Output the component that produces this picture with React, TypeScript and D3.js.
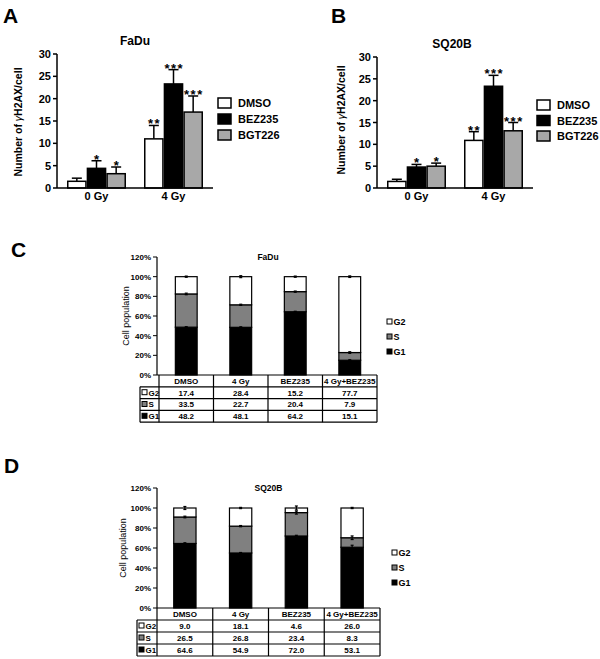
import React from "react";
import * as d3 from "d3";

// ---------- Data: panels A & B ----------
const doseGroups = ["0 Gy", "4 Gy"];
const treatments = ["DMSO", "BEZ235", "BGT226"];
const treatmentFill = ["#ffffff", "#000000", "#a8a8a8"];
const yTicksAB = [0, 5, 10, 15, 20, 25, 30];

const fadu0Gy = [1.5, 4.4, 3.2];
const fadu4Gy = [11.0, 23.3, 17.0];
const fadu0GyErr = [0.7, 1.7, 1.5];
const fadu4GyErr = [3.0, 3.2, 3.6];
const fadu0GyStars = ["", "*", "*"];
const fadu4GyStars = ["**", "***", "***"];

const sq0Gy = [1.5, 4.8, 5.0];
const sq4Gy = [10.9, 23.3, 13.1];
const sq0GyErr = [0.5, 0.6, 0.7];
const sq4GyErr = [2.0, 2.5, 1.9];
const sq0GyStars = ["", "*", "*"];
const sq4GyStars = ["**", "***", "***"];

// ---------- Data: panels C & D ----------
const cycleCats = ["DMSO", "4 Gy", "BEZ235", "4 Gy+BEZ235"];
const phases = ["G2", "S", "G1"]; // table order (top to bottom)
const phaseFill: Record<string, string> = { G2: "#ffffff", S: "#808080", G1: "#000000" };
const yTicksCD = [0, 20, 40, 60, 80, 100, 120];

const faduG2 = [17.4, 28.4, 15.2, 77.7];
const faduS = [33.5, 22.7, 20.4, 7.9];
const faduG1 = [48.2, 48.1, 64.2, 15.1];
const faduErrG1 = [0.5, 0.5, 0.5, 0.5];
const faduErrS = [0.8, 0.6, 0.6, 0.8];
const faduErrG2 = [0.6, 1.0, 0.6, 0.8];

const sqG2 = [9.0, 18.1, 4.6, 26.0];
const sqS = [26.5, 26.8, 23.4, 8.3];
const sqG1 = [64.6, 54.9, 72.0, 53.1];
const sqErrG1 = [0.7, 0.5, 0.7, 2.0];
const sqErrS = [0.8, 0.6, 1.5, 1.8];
const sqErrG2 = [1.5, 0.6, 2.0, 0.6];

const FONT = "'Liberation Sans', Arial, Helvetica, sans-serif";

type ABProps = {
  title: string;
  x0: number; x1: number; yTop: number; yBottom: number;
  titleX: number; labelX: number; labelY: number;
  legendX: number; legendYs: number[];
  means: number[][]; errs: number[][]; stars: string[][];
};

function DosePanel(p: ABProps) {
  const y = d3.scaleLinear().domain([0, 30]).range([p.yBottom, p.yTop]);
  const xg = d3.scaleBand().domain(doseGroups).range([p.x0, p.x1]).paddingInner(0.234).paddingOuter(0.13);
  const xt = d3.scaleBand().domain(treatments).range([0, xg.bandwidth()]);
  return (
    <g fontFamily={FONT} fontWeight="bold">
      <text x={p.titleX} y={p.yTop - 9} textAnchor="middle" fontSize={12}>{p.title}</text>
      {/* bars */}
      {doseGroups.map((g, gi) =>
        treatments.map((t, ti) => {
          const v = p.means[gi][ti];
          const e = p.errs[gi][ti];
          const bx = (xg(g) as number) + (xt(t) as number);
          const bw = xt.bandwidth();
          const cx = bx + bw / 2;
          const capY = y(v + e);
          return (
            <g key={g + t}>
              <line x1={cx} x2={cx} y1={y(v)} y2={capY} stroke="#000" strokeWidth={1.5} />
              <line x1={cx - 5} x2={cx + 5} y1={capY} y2={capY} stroke="#000" strokeWidth={1.5} />
              <rect x={bx + 0.75} y={y(v)} width={bw - 1.5} height={y(0) - y(v)} fill={treatmentFill[ti]} stroke="#000" strokeWidth={1.5} />
              {p.stars[gi][ti] && (
                <text x={cx + 0.75} y={capY + 3} textAnchor="middle" fontSize={13} letterSpacing={1.5}>{p.stars[gi][ti]}</text>
              )}
            </g>
          );
        })
      )}
      {/* axes */}
      <line x1={p.x0} x2={p.x0} y1={p.yTop} y2={p.yBottom} stroke="#000" strokeWidth={1.5} />
      <line x1={p.x0} x2={p.x1} y1={p.yBottom} y2={p.yBottom} stroke="#000" strokeWidth={1.5} />
      {yTicksAB.map((t) => (
        <g key={t}>
          <line x1={p.x0 - 4} x2={p.x0} y1={y(t)} y2={y(t)} stroke="#000" strokeWidth={1.5} />
          <text x={p.x0 - 6} y={y(t) + 4} textAnchor="end" fontSize={11}>{t}</text>
        </g>
      ))}
      {doseGroups.map((g) => (
        <text key={g} x={(xg(g) as number) + xg.bandwidth() / 2} y={p.yBottom + 12} textAnchor="middle" fontSize={11}>{g}</text>
      ))}
      <text transform={`translate(${p.labelX},${p.labelY}) rotate(-90)`} textAnchor="middle" fontSize={10.5}>
        Number of <tspan fontWeight="normal" fontStyle="italic">γ</tspan>H2AX/cell
      </text>
      {/* legend */}
      {treatments.map((t, i) => (
        <g key={t}>
          <rect x={p.legendX} y={p.legendYs[i] - 5} width={13} height={10} fill={treatmentFill[i]} stroke="#000" strokeWidth={1.5} />
          <text x={p.legendX + 20} y={p.legendYs[i] + 4} fontSize={11}>{t}</text>
        </g>
      ))}
    </g>
  );
}

type CDProps = {
  title: string;
  axisX: number; colX0: number; colX1: number; rowHeadX: number;
  yTop: number; yBottom: number; rowH: number;
  labelX: number; legendX: number; legendYs: number[];
  G2: number[]; S: number[]; G1: number[];
  errG1: number[]; errS: number[]; errG2: number[];
};

function CyclePanel(p: CDProps) {
  const y = d3.scaleLinear().domain([0, 120]).range([p.yBottom, p.yTop]);
  const x = d3.scaleBand().domain(cycleCats).range([p.colX0, p.colX1]).paddingInner(0.6).paddingOuter(0.3);
  const rows = cycleCats.map((c, i) => ({ cat: c, G1: p.G1[i], S: p.S[i], G2: p.G2[i] }));
  const stack = d3.stack<any>().keys(["G1", "S", "G2"]).offset(d3.stackOffsetExpand)(rows);
  const errs: Record<string, number[]> = { G1: p.errG1, S: p.errS, G2: p.errG2 };
  const tableVals: Record<string, number[]> = { G2: p.G2, S: p.S, G1: p.G1 };
  const step = x.step();
  const colLeft = (i: number) => p.colX0 + i * step;
  const tableTop = p.yBottom;
  return (
    <g fontFamily={FONT}>
      <text x={(p.colX0 + p.colX1) / 2} y={p.yTop + 3} textAnchor="middle" fontSize={8.5} fontWeight="bold">{p.title}</text>
      {/* bars */}
      {stack.map((layer) =>
        layer.map((d, i) => (
          <rect key={layer.key + i} x={x(cycleCats[i])} y={y(d[1] * 100)} width={x.bandwidth()} height={y(d[0] * 100) - y(d[1] * 100)}
            fill={phaseFill[layer.key]} stroke="#000" strokeWidth={1.2} />
        ))
      )}
      {/* error bars */}
      {stack.map((layer) =>
        layer.map((d, i) => {
          const cx = (x(cycleCats[i]) as number) + x.bandwidth() / 2;
          const v = d[1] * 100;
          const e = errs[layer.key][i];
          return (
            <g key={"e" + layer.key + i} stroke="#000" strokeWidth={1.2}>
              <line x1={cx} x2={cx} y1={y(v - e)} y2={y(v + e)} />
              <line x1={cx - 1.5} x2={cx + 1.5} y1={y(v - e)} y2={y(v - e)} />
              <line x1={cx - 1.5} x2={cx + 1.5} y1={y(v + e)} y2={y(v + e)} />
            </g>
          );
        })
      )}
      {/* y axis */}
      <line x1={p.axisX} x2={p.axisX} y1={p.yTop} y2={p.yBottom} stroke="#000" strokeWidth={1.2} />
      {yTicksCD.map((t) => (
        <g key={t}>
          <line x1={p.axisX - 4} x2={p.axisX} y1={y(t)} y2={y(t)} stroke="#000" strokeWidth={1} />
          <text x={p.axisX - 6} y={y(t) + 3} textAnchor="end" fontSize={8} fontWeight="bold">{t}%</text>
        </g>
      ))}
      <text transform={`translate(${p.labelX},${(p.yTop + p.yBottom) / 2}) rotate(-90)`} textAnchor="middle" fontSize={9}>Cell population</text>
      {/* table */}
      <g stroke="#000" strokeWidth={1.2} fill="none">
        <line x1={p.axisX} x2={p.colX1} y1={tableTop} y2={tableTop} />
        <line x1={p.rowHeadX} x2={p.colX1} y1={tableTop + p.rowH} y2={tableTop + p.rowH} />
        {phases.map((ph, r) => (
          <line key={ph} x1={p.rowHeadX} x2={p.colX1} y1={tableTop + (r + 2) * p.rowH} y2={tableTop + (r + 2) * p.rowH} />
        ))}
        <line x1={p.rowHeadX} x2={p.rowHeadX} y1={tableTop + p.rowH} y2={tableTop + 4 * p.rowH} />
        {cycleCats.map((c, i) => (
          <line key={c} x1={colLeft(i)} x2={colLeft(i)} y1={tableTop} y2={tableTop + 4 * p.rowH} />
        ))}
        <line x1={p.colX1} x2={p.colX1} y1={tableTop} y2={tableTop + 4 * p.rowH} />
      </g>
      {cycleCats.map((c, i) => (
        <text key={c} x={colLeft(i) + step / 2} y={tableTop + p.rowH - 3} textAnchor="middle" fontSize={8} fontWeight="bold">{c}</text>
      ))}
      {phases.map((ph, r) => (
        <g key={ph}>
          <rect x={p.rowHeadX + 2} y={tableTop + (r + 1) * p.rowH + p.rowH / 2 - 3} width={5} height={5} fill={phaseFill[ph]} stroke="#000" strokeWidth={1} />
          <text x={p.rowHeadX + 8.5} y={tableTop + (r + 2) * p.rowH - 3} fontSize={8} fontWeight="bold">{ph}</text>
          {cycleCats.map((c, i) => (
            <text key={c} x={colLeft(i) + step / 2} y={tableTop + (r + 2) * p.rowH - 3} textAnchor="middle" fontSize={8} fontWeight="bold">
              {tableVals[ph][i].toFixed(1)}
            </text>
          ))}
        </g>
      ))}
      {/* legend */}
      {phases.map((ph, i) => (
        <g key={ph}>
          <rect x={p.legendX} y={p.legendYs[i] - 3} width={5} height={5} fill={phaseFill[ph]} stroke="#000" strokeWidth={1} />
          <text x={p.legendX + 6.5} y={p.legendYs[i] + 3} fontSize={9} fontWeight="bold">{ph}</text>
        </g>
      ))}
    </g>
  );
}

export default function App() {
  return (
    <svg width={600} height={659} style={{ position: "absolute", left: 0, top: 0, background: "#fff" }}>
      <rect width={600} height={659} fill="#fff" />
      <g fontFamily={FONT} fontWeight="bold" fontSize={21}>
        <text x={3} y={23}>A</text>
        <text x={331} y={23}>B</text>
        <text x={11} y={257}>C</text>
        <text x={4} y={473}>D</text>
      </g>
      <DosePanel title="FaDu" x0={57} x1={213} yTop={54} yBottom={188} titleX={135} labelX={22} labelY={122}
        legendX={218} legendYs={[103, 119, 135]}
        means={[fadu0Gy, fadu4Gy]} errs={[fadu0GyErr, fadu4GyErr]} stars={[fadu0GyStars, fadu4GyStars]} />
      <DosePanel title="SQ20B" x0={377} x1={533} yTop={57} yBottom={188} titleX={452} labelX={345} labelY={120}
        legendX={537} legendYs={[105, 120.5, 136]}
        means={[sq0Gy, sq4Gy]} errs={[sq0GyErr, sq4GyErr]} stars={[sq0GyStars, sq4GyStars]} />
      <CyclePanel title="FaDu" axisX={157} colX0={159} colX1={377} rowHeadX={140} yTop={257} yBottom={375} rowH={11.8}
        labelX={129} legendX={387} legendYs={[322, 337, 352]}
        G2={faduG2} S={faduS} G1={faduG1} errG1={faduErrG1} errS={faduErrS} errG2={faduErrG2} />
      <CyclePanel title="SQ20B" axisX={157} colX0={157} colX1={380} rowHeadX={137} yTop={488} yBottom={608} rowH={12}
        labelX={126} legendX={392} legendYs={[553, 568, 583]}
        G2={sqG2} S={sqS} G1={sqG1} errG1={sqErrG1} errS={sqErrS} errG2={sqErrG2} />
    </svg>
  );
}
